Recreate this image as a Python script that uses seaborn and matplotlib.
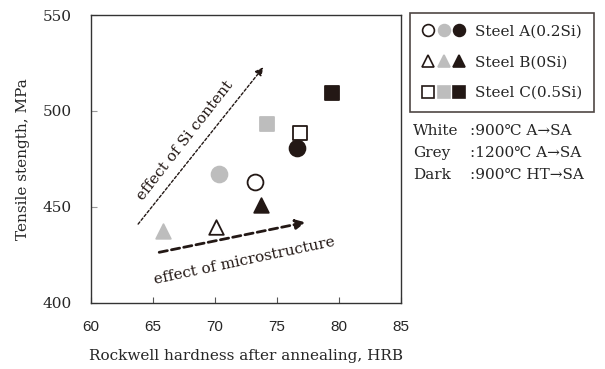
import matplotlib
matplotlib.use("Agg")
import matplotlib.pyplot as plt
import seaborn as sns
import pandas as pd
from matplotlib.lines import Line2D
from matplotlib.legend_handler import HandlerTuple

# ---- data ----
steels = ["A", "A", "A", "B", "B", "B", "C", "C", "C"]
treatments = ["White", "Grey", "Dark"] * 3
hardness = [73.2, 70.35, 76.6, 70.1, 65.8, 73.7, 76.85, 74.2, 79.4]
strength = [462.9, 467.0, 480.6, 439.7, 437.5, 451.0, 488.4, 493.1, 509.2]
steel_labels = ["Steel A(0.2Si)", "Steel B(0Si)", "Steel C(0.5Si)"]
treat_labels = ["White", "Grey", "Dark"]
treat_desc = ["900\u2103 A\u2192SA", "1200\u2103 A\u2192SA", "900\u2103 HT\u2192SA"]
x_ticks = [60, 65, 70, 75, 80, 85]
y_ticks = [400, 450, 500, 550]

df = pd.DataFrame({"steel": steels, "treat": treatments, "x": hardness, "y": strength})

BLACK = "#231815"
GREY = "#bdbdbd"
face = {"White": "white", "Grey": GREY, "Dark": BLACK}
edge = {"White": BLACK, "Grey": GREY, "Dark": BLACK}
markers = {"A": "o", "B": "^", "C": "s"}
sizes = {"A": 130, "B": 110, "C": 100}

sns.set_style("ticks")
plt.rcParams["font.family"] = ["DejaVu Serif", "DejaVu Sans"]

fig = plt.figure(figsize=(6.05, 3.69), dpi=100)
ax = fig.add_axes([91 / 605, 1 - 303 / 369, 310 / 605, 288 / 369])

for t in treat_labels:
    for s in ["A", "B", "C"]:
        sub = df[(df.treat == t) & (df.steel == s)]
        sns.scatterplot(data=sub, x="x", y="y", marker=markers[s], s=sizes[s],
                        color=face[t], edgecolor=edge[t], linewidth=1.3,
                        legend=False, ax=ax, zorder=3)

ax.set_xlim(60, 85)
ax.set_ylim(400, 550)
ax.set_xticks(x_ticks)
ax.set_yticks(y_ticks)
ax.set_xticklabels([str(v) for v in x_ticks], family="Liberation Sans", fontsize=11)
ax.set_yticklabels([str(v) for v in y_ticks], fontsize=11)
ax.tick_params(axis="x", direction="in", length=4, pad=12, color="#555555")
ax.tick_params(axis="y", direction="in", length=4, pad=14, color="#999999")
for sp in ax.spines.values():
    sp.set_color("#333333")
    sp.set_linewidth(1.0)
ax.set_xlabel("Rockwell hardness after annealing, HRB", fontsize=11, labelpad=11)
ax.set_ylabel("Tensile stength, MPa", fontsize=11, labelpad=9)

# arrows
ax.annotate("", xy=(73.9, 522.8), xytext=(63.8, 441.1),
            arrowprops=dict(arrowstyle="-|>", color=BLACK, lw=1.0, ls=(0, (2, 1.5)),
                            mutation_scale=12, shrinkA=0, shrinkB=0))
ax.annotate("", xy=(77.3, 442.0), xytext=(65.5, 426.4),
            arrowprops=dict(arrowstyle="-|>", color=BLACK, lw=2.0, ls=(0, (3, 1.5)),
                            mutation_scale=14, shrinkA=0, shrinkB=0))
ax.text(67.6, 484.5, "effect of Si content", rotation=52, ha="center", va="center",
        fontsize=11, color=BLACK, rotation_mode="anchor")
ax.text(72.4, 422.0, "effect of microstructure", rotation=12, ha="center", va="center",
        fontsize=11, color=BLACK, rotation_mode="anchor")

# legend
handles = []
for s in ["A", "B", "C"]:
    handles.append(tuple(Line2D([], [], ls="none", marker=markers[s], markersize=8.5,
                                markerfacecolor=face[t], markeredgecolor=edge[t],
                                markeredgewidth=1.2) for t in treat_labels))
leg = fig.legend(handles, steel_labels, handler_map={tuple: HandlerTuple(ndivide=None, pad=0.15)},
                 loc="upper left", bbox_to_anchor=(410 / 605, 1 - 13 / 369),
                 frameon=True, fancybox=False, edgecolor=BLACK, fontsize=11,
                 handlelength=2.9, labelspacing=1.1, borderpad=0.75, handletextpad=0.6,
                 borderaxespad=0)
leg.get_frame().set_linewidth(1.2)

for i, (lab, desc) in enumerate(zip(treat_labels, treat_desc)):
    yy = 1 - (131 + 22 * i) / 369
    fig.text(413 / 605, yy, lab, fontsize=11, va="center", ha="left")
    fig.text(470 / 605, yy, ":" + desc, fontsize=11, va="center", ha="left")

fig.savefig("out.png", dpi=100)
